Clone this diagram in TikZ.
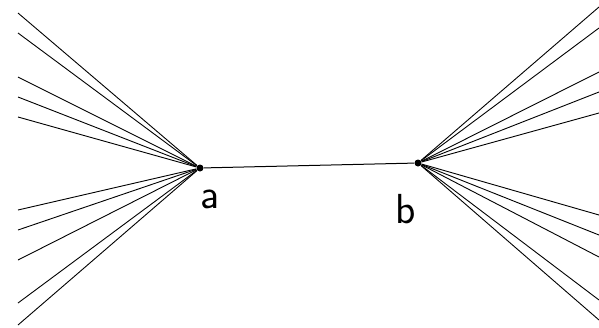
\documentclass[tikz,border=0pt]{standalone}
\begin{document}
\begin{tikzpicture}[x=1pt, y=-1pt, line width=1pt,
  vertex/.style={circle, fill, inner sep=0pt, minimum size=7pt},
  lbl/.style={anchor=base, font=\fontsize{42}{42}\selectfont\sffamily}]
  \useasboundingbox (0,0) rectangle (599,327);
  \node[vertex] (a) at (200,168) {};
  \node[vertex] (b) at (418,163) {};
  \node[lbl] (la) at (210,208) {a};
  \node[lbl] (lb) at (406,223) {b};

  % edge between the two points
  \draw (a) -- (b);

  % fan of lines on the left
  \foreach \y in {13,33,77,97,117,210,230,260,303,325} {
    \coordinate (l\y) at (18,\y);
    \draw[line width=0.9pt] (a) -- (l\y);
  }

  % fan of lines on the right
  \foreach \y in {7,28,72,92,113,215,235,257,300,320} {
    \coordinate (r\y) at (599,\y);
    \draw[line width=0.9pt] (b) -- (r\y);
  }
\end{tikzpicture}
\end{document}
